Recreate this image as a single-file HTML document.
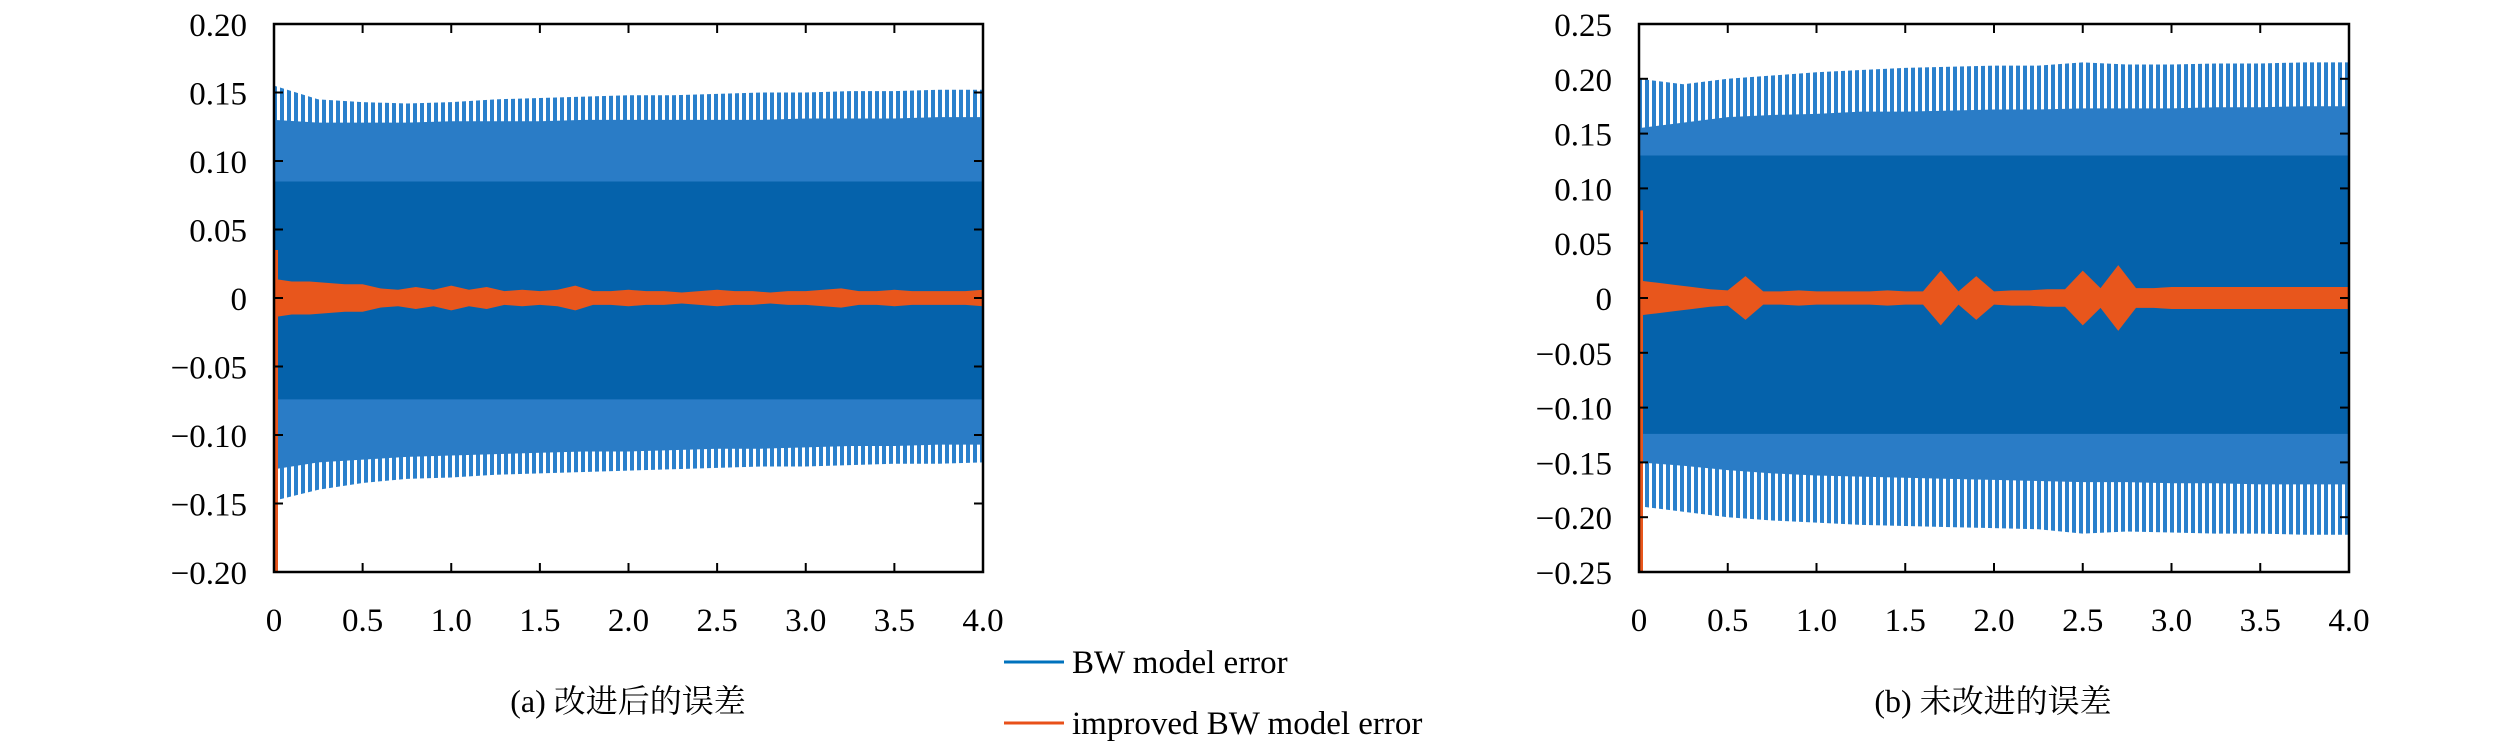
<!DOCTYPE html>
<html><head><meta charset="utf-8"><style>
html,body{margin:0;padding:0;background:#fff;}
svg{display:block;}
text{font-family:"Liberation Serif","Noto Serif CJK SC",serif;fill:#000;}
</style></head><body>
<svg id="fig" width="2520" height="751" viewBox="0 0 2520 751" xmlns="http://www.w3.org/2000/svg">
<defs>
<pattern id="stripe" width="7" height="10" patternUnits="userSpaceOnUse">
<rect width="7" height="10" fill="#ffffff"/><rect width="4" height="10" fill="#2a80cc"/>
</pattern>
</defs>
<g id="chartA"></g>
<g id="chartB"></g>
<g>
<line x1="1004" y1="662" x2="1064" y2="662" stroke="#0072bd" stroke-width="3"/>
<text x="1072" y="673" font-size="33">BW model error</text>
<line x1="1004" y1="723" x2="1064" y2="723" stroke="#e8501a" stroke-width="3"/>
<text x="1072" y="734" font-size="33">improved BW model error</text>
</g>
<text x="628" y="712" font-size="32" text-anchor="middle">(a) 改进后的误差</text>
<text x="1993" y="712" font-size="32" text-anchor="middle">(b) 未改进的误差</text>
</svg>
<script>
// shared sample times (s) for envelopes
const envT = [0,0.25,0.5,0.75,1.0,1.25,1.5,1.75,2.0,2.25,2.5,2.75,3.0,3.25,3.5,3.75,4.0];
const xTicks = [0,0.5,1.0,1.5,2.0,2.5,3.0,3.5,4.0];
const xTickLabels = ["0","0.5","1.0","1.5","2.0","2.5","3.0","3.5","4.0"];
const orangeT = [0,0.1,0.2,0.3,0.4,0.5,0.6,0.7,0.8,0.9,1.0,1.1,1.2,1.3,1.4,1.5,1.6,1.7,1.8,1.9,2.0,2.1,2.2,2.3,2.4,2.5,2.6,2.7,2.8,2.9,3.0,3.1,3.2,3.3,3.4,3.5,3.6,3.7,3.8,3.9,4.0];

// chart A (improved)
const aYTicks = [0.20,0.15,0.10,0.05,0,-0.05,-0.10,-0.15,-0.20];
const aYTickLabels = ["0.20","0.15","0.10","0.05","0","\u22120.05","\u22120.10","\u22120.15","\u22120.20"];
const aPeakHi  = [0.155,0.145,0.143,0.142,0.143,0.145,0.146,0.147,0.148,0.148,0.149,0.150,0.150,0.151,0.151,0.152,0.152];
const aLightHi = [0.13,0.128,0.128,0.128,0.129,0.129,0.129,0.13,0.13,0.13,0.13,0.13,0.131,0.131,0.131,0.132,0.132];
const aDarkHi  = [0.085,0.085,0.085,0.085,0.085,0.085,0.085,0.085,0.085,0.085,0.085,0.085,0.085,0.085,0.085,0.085,0.085];
const aDarkLo  = [-0.074,-0.074,-0.074,-0.074,-0.074,-0.074,-0.074,-0.074,-0.074,-0.074,-0.074,-0.074,-0.074,-0.074,-0.074,-0.074,-0.074];
const aLightLo = [-0.125,-0.12,-0.118,-0.116,-0.115,-0.114,-0.113,-0.112,-0.112,-0.111,-0.11,-0.11,-0.109,-0.108,-0.108,-0.107,-0.107];
const aPeakLo  = [-0.148,-0.14,-0.135,-0.132,-0.131,-0.129,-0.128,-0.127,-0.126,-0.125,-0.124,-0.123,-0.123,-0.122,-0.121,-0.121,-0.120];
const aOrange  = [0.014,0.012,0.012,0.011,0.010,0.010,0.007,0.006,0.008,0.006,0.009,0.006,0.008,0.005,0.006,0.005,0.006,0.009,0.005,0.005,0.006,0.005,0.005,0.004,0.005,0.006,0.005,0.005,0.004,0.005,0.005,0.006,0.007,0.005,0.005,0.006,0.005,0.005,0.005,0.005,0.006];
const aStartHi = 0.035, aStartLo = -0.20;

// chart B (unimproved)
const bYTicks = [0.25,0.20,0.15,0.10,0.05,0,-0.05,-0.10,-0.15,-0.20,-0.25];
const bYTickLabels = ["0.25","0.20","0.15","0.10","0.05","0","\u22120.05","\u22120.10","\u22120.15","\u22120.20","\u22120.25"];
const bPeakHi  = [0.20,0.195,0.200,0.203,0.206,0.208,0.210,0.211,0.212,0.212,0.215,0.213,0.213,0.214,0.214,0.215,0.215];
const bLightHi = [0.155,0.16,0.165,0.167,0.168,0.17,0.17,0.171,0.172,0.172,0.173,0.173,0.173,0.174,0.174,0.175,0.175];
const bDarkHi  = [0.13,0.13,0.13,0.13,0.13,0.13,0.13,0.13,0.13,0.13,0.13,0.13,0.13,0.13,0.13,0.13,0.13];
const bDarkLo  = [-0.124,-0.124,-0.124,-0.124,-0.124,-0.124,-0.124,-0.124,-0.124,-0.124,-0.124,-0.124,-0.124,-0.124,-0.124,-0.124,-0.124];
const bLightLo = [-0.15,-0.153,-0.157,-0.16,-0.162,-0.163,-0.164,-0.165,-0.166,-0.167,-0.168,-0.168,-0.169,-0.169,-0.17,-0.17,-0.17];
const bPeakLo  = [-0.19,-0.195,-0.200,-0.203,-0.205,-0.207,-0.208,-0.209,-0.21,-0.211,-0.215,-0.213,-0.214,-0.215,-0.215,-0.216,-0.216];
const bOrange  = [0.016,0.014,0.012,0.010,0.008,0.007,0.020,0.006,0.006,0.007,0.006,0.006,0.006,0.006,0.007,0.006,0.006,0.025,0.006,0.020,0.006,0.007,0.007,0.008,0.008,0.025,0.009,0.030,0.009,0.009,0.010,0.010,0.010,0.010,0.010,0.010,0.010,0.010,0.010,0.010,0.010];
const bStartHi = 0.08, bStartLo = -0.25;

const NS = "http://www.w3.org/2000/svg";
function mk(tag, attrs, parent){
  const e = document.createElementNS(NS, tag);
  for (const k in attrs) e.setAttribute(k, attrs[k]);
  parent.appendChild(e);
  return e;
}
function band(g, xs, hi, lo, t, fill, name){
  let pts = [];
  for (let i=0;i<t.length;i++) pts.push(xs(t[i])+","+hi[i]);
  for (let i=t.length-1;i>=0;i--) pts.push(xs(t[i])+","+lo[i]);
  const p = mk("polygon", {points: pts.join(" "), fill: fill}, g);
  
  
  return p;
}
function drawChart(gid, x0, x1, y0, y1, yMax, yTicks, yLabels, pHi, lHi, dHi, dLo, lLo, pLo, orange, sHi, sLo, labelRight){
  const g = document.getElementById(gid);
  const xs = v => x0 + (v/4.0)*(x1-x0);
  const ys = v => y0 + (yMax - v)/(2*yMax)*(y1-y0);
  const m = a => a.map(ys);
  band(g, xs, m(pHi), m(pLo), envT, "url(#stripe)", "bw-error-peaks");
  band(g, xs, m(lHi), m(lLo), envT, "#2a7cc6", "bw-error-outer-band");
  band(g, xs, m(dHi), m(dLo), envT, "#0562ab", "bw-error-core-band");
  // orange improved error band
  const oh = orange.map(v => ys(v)), ol = orange.map(v => ys(-v));
  band(g, xs, oh, ol, orangeT, "#e8561c", "improved-error-band");
  const sp = mk("line", {x1: xs(0)+2, x2: xs(0)+2, y1: ys(sHi), y2: ys(sLo), stroke: "#e8561c", "stroke-width": 4}, g);
  
  
  // frame
  const fr = mk("rect", {x: x0, y: y0, width: x1-x0, height: y1-y0, fill: "none", stroke: "#000", "stroke-width": 2.5}, g);
  
  
  for (let i=0;i<xTicks.length;i++){
    const x = xs(xTicks[i]);
    const tb = mk("line", {x1:x,x2:x,y1:y1,y2:y1-9,stroke:"#000","stroke-width":2}, g);
    
    
    const tt = mk("line", {x1:x,x2:x,y1:y0,y2:y0+9,stroke:"#000","stroke-width":2}, g);
    
    
    const lb = mk("text", {x:x, y:y1+59, "font-size":33, "text-anchor":"middle"}, g);
    lb.textContent = xTickLabels[i];
    
    
  }
  for (let i=0;i<yTicks.length;i++){
    const y = ys(yTicks[i]);
    const tl = mk("line", {x1:x0,x2:x0+9,y1:y,y2:y,stroke:"#000","stroke-width":2}, g);
    
    
    const tr = mk("line", {x1:x1,x2:x1-9,y1:y,y2:y,stroke:"#000","stroke-width":2}, g);
    
    
    const lb = mk("text", {x:labelRight, y:y+12, "font-size":33, "text-anchor":"end"}, g);
    lb.textContent = yLabels[i];
    
    
  }
}
drawChart("chartA", 274, 983, 24, 572, 0.20, aYTicks, aYTickLabels, aPeakHi, aLightHi, aDarkHi, aDarkLo, aLightLo, aPeakLo, aOrange, aStartHi, aStartLo, 247);
drawChart("chartB", 1639, 2349, 24, 572, 0.25, bYTicks, bYTickLabels, bPeakHi, bLightHi, bDarkHi, bDarkLo, bLightLo, bPeakLo, bOrange, bStartHi, bStartLo, 1612);
</script>
</body></html>
